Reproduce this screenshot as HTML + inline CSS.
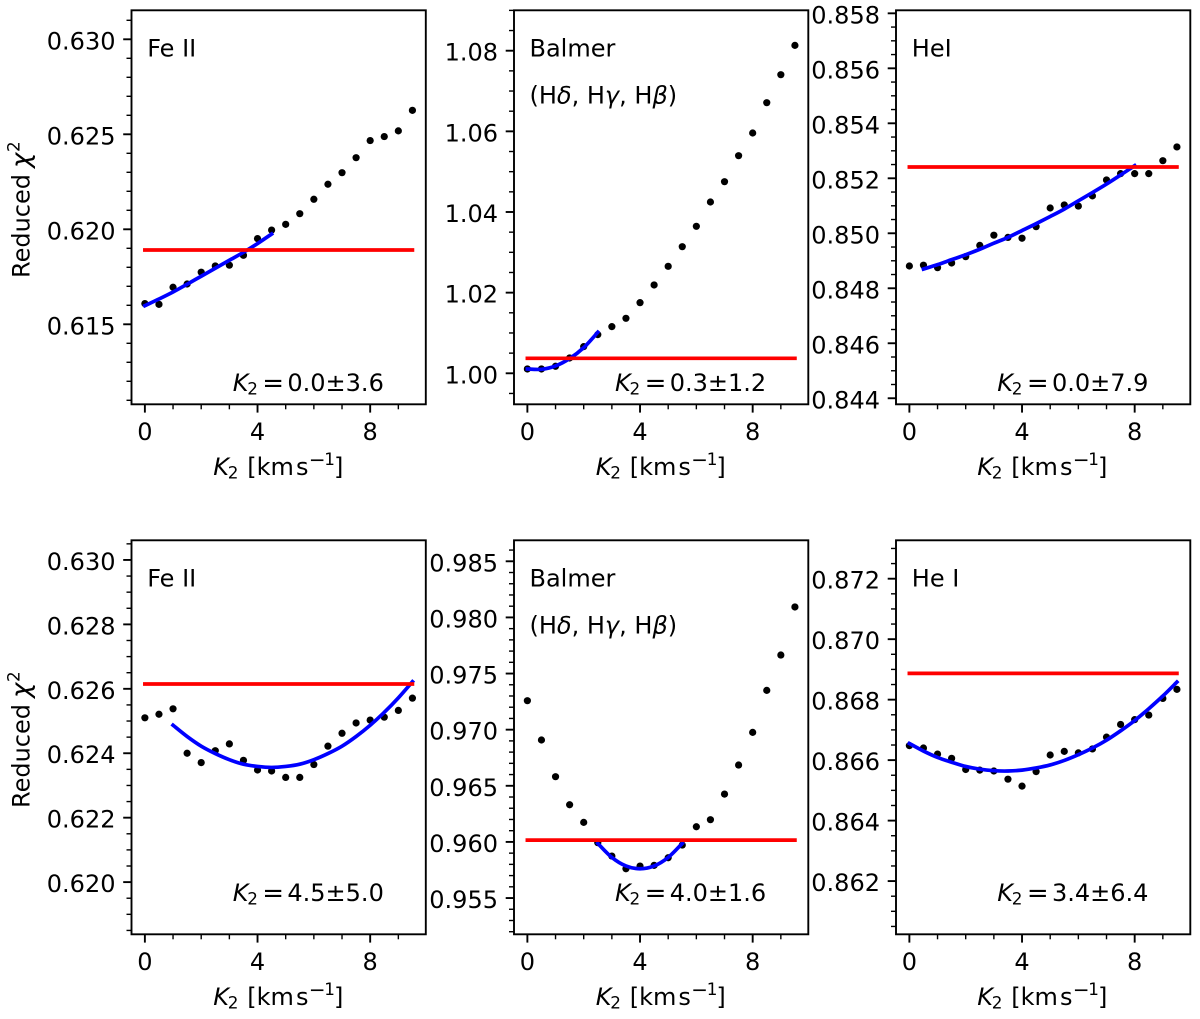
<!DOCTYPE html>
<html lang="en">
<head>
<meta charset="utf-8">
<title>Reduced chi-square versus K2</title>
<style>
html,body{margin:0;padding:0;background:#fff;}
svg{display:block;font-family:"DejaVu Sans","Liberation Sans",sans-serif;font-size:24px;fill:#000;}
.i{font-style:italic;}
.s{font-size:16.8px;}
.m{font-size:20px;}
.e{font-size:26px;}
.c{font-size:26px;font-style:italic;}
</style>
</head>
<body>
<svg xmlns="http://www.w3.org/2000/svg" width="1200" height="1019" viewBox="0 0 1200 1019">
<rect x="0" y="0" width="1200" height="1019" fill="#fff"></rect>

<g id="panel-0">
<g class="marks"></g>
<text x="147.2" y="56.7">Fe II</text>
<text transform="translate(232.7,391)"><tspan class="i">K</tspan><tspan class="s" x="14.5" y="3.5">2</tspan><tspan class="e" x="29.6" y="0.6">=</tspan><tspan x="54.7" y="0">0.0±3.6</tspan></text>
<text transform="translate(213.3,475)"><tspan class="i">K</tspan><tspan class="s" x="14.5" y="3.5">2</tspan><tspan x="34" y="0">[km</tspan><tspan x="82.7" y="0">s</tspan><tspan class="m" x="95.6" y="-8.7">−</tspan><tspan class="s" x="111" y="-10">1</tspan><tspan x="120.7" y="0">]</tspan></text>
<text transform="translate(29.3,278) rotate(-90)">Reduced<tspan class="c" x="110" y="0">χ</tspan><tspan class="s" x="126" y="-10">2</tspan></text>
</g>

<g id="panel-1">
<g class="marks"></g>
<text x="529.5" y="56.7">Balmer</text>
<text x="529.5" y="103.3">(H<tspan class="i">δ</tspan>, H<tspan class="i">γ</tspan>, H<tspan class="i">β</tspan>)</text>
<text transform="translate(615,391)"><tspan class="i">K</tspan><tspan class="s" x="14.5" y="3.5">2</tspan><tspan class="e" x="29.6" y="0.6">=</tspan><tspan x="54.7" y="0">0.3±1.2</tspan></text>
<text transform="translate(595.7,475)"><tspan class="i">K</tspan><tspan class="s" x="14.5" y="3.5">2</tspan><tspan x="34" y="0">[km</tspan><tspan x="82.7" y="0">s</tspan><tspan class="m" x="95.6" y="-8.7">−</tspan><tspan class="s" x="111" y="-10">1</tspan><tspan x="120.7" y="0">]</tspan></text>
</g>

<g id="panel-2">
<g class="marks"></g>
<text x="911.8" y="56.7">HeI</text>
<text transform="translate(997.3,391)"><tspan class="i">K</tspan><tspan class="s" x="14.5" y="3.5">2</tspan><tspan class="e" x="29.6" y="0.6">=</tspan><tspan x="54.7" y="0">0.0±7.9</tspan></text>
<text transform="translate(977.3,475)"><tspan class="i">K</tspan><tspan class="s" x="14.5" y="3.5">2</tspan><tspan x="34" y="0">[km</tspan><tspan x="82.7" y="0">s</tspan><tspan class="m" x="95.6" y="-8.7">−</tspan><tspan class="s" x="111" y="-10">1</tspan><tspan x="120.7" y="0">]</tspan></text>
</g>

<g id="panel-3">
<g class="marks"></g>
<text x="147.2" y="586.7">Fe II</text>
<text transform="translate(232.7,901)"><tspan class="i">K</tspan><tspan class="s" x="14.5" y="3.5">2</tspan><tspan class="e" x="29.6" y="0.6">=</tspan><tspan x="54.7" y="0">4.5±5.0</tspan></text>
<text transform="translate(213.3,1005)"><tspan class="i">K</tspan><tspan class="s" x="14.5" y="3.5">2</tspan><tspan x="34" y="0">[km</tspan><tspan x="82.7" y="0">s</tspan><tspan class="m" x="95.6" y="-8.7">−</tspan><tspan class="s" x="111" y="-10">1</tspan><tspan x="120.7" y="0">]</tspan></text>
<text transform="translate(29.3,808) rotate(-90)">Reduced<tspan class="c" x="110" y="0">χ</tspan><tspan class="s" x="126" y="-10">2</tspan></text>
</g>

<g id="panel-4">
<g class="marks"></g>
<text x="529.5" y="586.7">Balmer</text>
<text x="529.5" y="633.3">(H<tspan class="i">δ</tspan>, H<tspan class="i">γ</tspan>, H<tspan class="i">β</tspan>)</text>
<text transform="translate(615,901)"><tspan class="i">K</tspan><tspan class="s" x="14.5" y="3.5">2</tspan><tspan class="e" x="29.6" y="0.6">=</tspan><tspan x="54.7" y="0">4.0±1.6</tspan></text>
<text transform="translate(595.7,1005)"><tspan class="i">K</tspan><tspan class="s" x="14.5" y="3.5">2</tspan><tspan x="34" y="0">[km</tspan><tspan x="82.7" y="0">s</tspan><tspan class="m" x="95.6" y="-8.7">−</tspan><tspan class="s" x="111" y="-10">1</tspan><tspan x="120.7" y="0">]</tspan></text>
</g>

<g id="panel-5">
<g class="marks"></g>
<text x="911.8" y="586.7">He I</text>
<text transform="translate(997.3,901)"><tspan class="i">K</tspan><tspan class="s" x="14.5" y="3.5">2</tspan><tspan class="e" x="29.6" y="0.6">=</tspan><tspan x="54.7" y="0">3.4±6.4</tspan></text>
<text transform="translate(977.3,1005)"><tspan class="i">K</tspan><tspan class="s" x="14.5" y="3.5">2</tspan><tspan x="34" y="0">[km</tspan><tspan x="82.7" y="0">s</tspan><tspan class="m" x="95.6" y="-8.7">−</tspan><tspan class="s" x="111" y="-10">1</tspan><tspan x="120.7" y="0">]</tspan></text>
</g>
</svg>

<script>
// Shared x data
const k2Grid = [0,0.5,1,1.5,2,2.5,3,3.5,4,4.5,5,5.5,6,6.5,7,7.5,8,8.5,9,9.5];
const xRange = [-0.475, 9.975];
const xTickLabels = ['0','4','8'];
const xMinorTicks = [1,2,3,5,6,7,9];

// Panel 0: Fe II (top)
const feTopChi = [0.61609,0.61605,0.61695,0.61712,0.61774,0.61807,0.61811,0.61863,0.61951,0.61996,0.62026,0.62082,0.62158,0.62237,0.62298,0.62377,0.62467,0.62488,0.62518,0.62626];
const feTopFitK = [0,0.5,1,1.5,2,2.5,3,3.5,4,4.5];
const feTopFitChi = [0.61598,0.61633,0.61670,0.61711,0.61753,0.61795,0.61837,0.61879,0.61925,0.61975];
const feTopLimit = 0.61891;
const feTopRange = [0.610789,0.631526];
const feTopTickLabels = ['0.615','0.620','0.625','0.630'];
const feTopMinorStep = 0.001;

// Panel 1: Balmer (top)
const balmerTopChi = [1.00107,1.00107,1.00174,1.0038,1.00661,1.00959,1.01157,1.01364,1.01752,1.0219,1.02653,1.0314,1.03645,1.04248,1.04752,1.05397,1.05959,1.06711,1.07405,1.08132];
const balmerTopFitK = [0,0.5,1,1.5,2,2.5];
const balmerTopFitChi = [1.00107,1.00099,1.00182,1.00364,1.00636,1.01017];
const balmerTopLimit = 1.00372;
const balmerTopRange = [0.99231,1.09002];
const balmerTopTickLabels = ['1.00','1.02','1.04','1.06','1.08'];
const balmerTopMinorStep = 0.005;

// Panel 2: HeI (top)
const heTopChi = [0.84881,0.84884,0.84875,0.84892,0.84915,0.84956,0.84993,0.84985,0.84982,0.85024,0.85092,0.85103,0.85099,0.85136,0.85194,0.85217,0.85217,0.85217,0.85264,0.85314];
const heTopFitK = [0.5,1,1.5,2,2.5,3,3.5,4,4.5,5,5.5,6,6.5,7,7.5,8];
const heTopFitChi = [0.84870,0.84886,0.84904,0.84922,0.84942,0.84964,0.84985,0.85010,0.85035,0.85061,0.85088,0.85118,0.85148,0.85179,0.85212,0.85246];
const heTopLimit = 0.85241;
const heTopRange = [0.84378,0.85811];
const heTopTickLabels = ['0.844','0.846','0.848','0.850','0.852','0.854','0.856','0.858'];
const heTopMinorStep = 0.0005;

// Panel 3: Fe II (bottom)
const feBottomChi = [0.62510,0.62521,0.62538,0.62400,0.62371,0.62408,0.62429,0.62378,0.62348,0.62345,0.62325,0.62325,0.62365,0.62422,0.62462,0.62494,0.62503,0.62512,0.62533,0.62571];
const feBottomFitK = [1,1.5,2,2.5,3,3.5,4,4.5,5,5.5,6,6.5,7,7.5,8,8.5,9,9.5];
const feBottomFitChi = [0.62487,0.62452,0.62422,0.62399,0.62380,0.62366,0.62359,0.62356,0.62359,0.62366,0.62380,0.62399,0.62422,0.62452,0.62487,0.62527,0.62572,0.62622];
const feBottomLimit = 0.62615;
const feBottomRange = [0.61838,0.63061];
const feBottomTickLabels = ['0.620','0.622','0.624','0.626','0.628','0.630'];
const feBottomMinorStep = 0.0005;

// Panel 4: Balmer (bottom)
const balmerBottomChi = [0.97258,0.96908,0.96581,0.96331,0.96174,0.95993,0.95874,0.95761,0.95785,0.95791,0.95859,0.95972,0.96135,0.96198,0.96426,0.96685,0.96976,0.97350,0.97665,0.98093];
const balmerBottomFitK = [2.5,3,3.5,4,4.5,5,5.5];
const balmerBottomFitChi = [0.95987,0.95862,0.95786,0.95761,0.95786,0.95862,0.95987];
const balmerBottomLimit = 0.96016;
const balmerBottomRange = [0.95177,0.98687];
const balmerBottomTickLabels = ['0.955','0.960','0.965','0.970','0.975','0.980','0.985'];
const balmerBottomMinorStep = 0.001;

// Panel 5: He I (bottom)
const heBottomChi = [0.86648,0.86640,0.86620,0.86606,0.86569,0.86567,0.86564,0.86537,0.86514,0.86562,0.86617,0.86629,0.86624,0.86637,0.86676,0.86718,0.86734,0.86749,0.86804,0.86834];
const heBottomFitK = [0,0.5,1,1.5,2,2.5,3,3.5,4,4.5,5,5.5,6,6.5,7,7.5,8,8.5,9,9.5];
const heBottomFitChi = [0.86655,0.86630,0.86609,0.86593,0.86579,0.86570,0.86565,0.86564,0.86567,0.86574,0.86584,0.86599,0.86618,0.86640,0.86666,0.86697,0.86731,0.86770,0.86812,0.86858];
const heBottomLimit = 0.86887;
const heBottomRange = [0.86024,0.87327];
const heBottomTickLabels = ['0.862','0.864','0.866','0.868','0.870','0.872'];
const heBottomMinorStep = 0.0005;

const SVG_NS = 'http://www.w3.org/2000/svg';

function makeEl(tag, attrs, parent) {
  const el = document.createElementNS(SVG_NS, tag);
  for (const key in attrs) el.setAttribute(key, attrs[key]);
  parent.appendChild(el);
  return el;
}

function smoothPath(pts) {
  let d = 'M' + pts[0][0].toFixed(2) + ' ' + pts[0][1].toFixed(2);
  for (let i = 0; i < pts.length - 1; i++) {
    const p0 = pts[Math.max(0, i - 1)];
    const p1 = pts[i];
    const p2 = pts[i + 1];
    const p3 = pts[Math.min(pts.length - 1, i + 2)];
    const c1x = p1[0] + (p2[0] - p0[0]) / 6;
    const c1y = p1[1] + (p2[1] - p0[1]) / 6;
    const c2x = p2[0] - (p3[0] - p1[0]) / 6;
    const c2y = p2[1] - (p3[1] - p1[1]) / 6;
    d += 'C' + c1x.toFixed(2) + ' ' + c1y.toFixed(2) + ' ' + c2x.toFixed(2) + ' ' + c2y.toFixed(2) + ' ' + p2[0].toFixed(2) + ' ' + p2[1].toFixed(2);
  }
  return d;
}

function drawPanel(index, left, top, chi, fitK, fitChi, limit, yRange, yTickLabels, minorStep) {
  const width = 294.3;
  const height = 394;
  const bottom = top + height;
  const xScale = function (v) { return left + (v - xRange[0]) / (xRange[1] - xRange[0]) * width; };
  const yScale = function (v) { return bottom - (v - yRange[0]) / (yRange[1] - yRange[0]) * height; };
  const g = document.querySelector('#panel-' + index + ' .marks');

  // data points
  k2Grid.forEach(function (k, i) {
    const dot = makeEl('circle', { cx: xScale(k), cy: yScale(chi[i]), r: 3.6, fill: '#000' }, g);
    
    
  });

  // fitted parabola
  const fitPts = fitK.map(function (k, i) { return [xScale(k), yScale(fitChi[i])]; });
  const fit = makeEl('path', { d: smoothPath(fitPts), fill: 'none', stroke: '#0000ff', 'stroke-width': 3.7, 'stroke-linecap': 'square' }, g);
  
  

  // confidence limit line
  const limitLine = makeEl('line', { x1: xScale(k2Grid[0]), x2: xScale(k2Grid[k2Grid.length - 1]), y1: yScale(limit), y2: yScale(limit), stroke: '#ff0000', 'stroke-width': 3.7, 'stroke-linecap': 'square' }, g);
  
  

  // x ticks
  xTickLabels.forEach(function (label) {
    const v = Number(label);
    const tick = makeEl('line', { x1: xScale(v), x2: xScale(v), y1: bottom, y2: bottom + 8.3, stroke: '#000', 'stroke-width': 1.9 }, g);
    
    
    const text = makeEl('text', { x: xScale(v), y: bottom + 35.5, 'text-anchor': 'middle' }, g);
    text.textContent = label;
    
    
  });
  xMinorTicks.forEach(function (v) {
    const tick = makeEl('line', { x1: xScale(v), x2: xScale(v), y1: bottom, y2: bottom + 5, stroke: '#000', 'stroke-width': 1.4 }, g);
    
    
  });

  // y ticks
  const majors = yTickLabels.map(Number);
  const firstMinor = Math.ceil(yRange[0] / minorStep);
  const lastMinor = Math.floor(yRange[1] / minorStep);
  for (let n = firstMinor; n <= lastMinor; n++) {
    const v = n * minorStep;
    if (majors.some(function (m) { return Math.abs(m - v) < minorStep / 10; })) continue;
    const tick = makeEl('line', { x1: left - 5, x2: left, y1: yScale(v), y2: yScale(v), stroke: '#000', 'stroke-width': 1.4 }, g);
    
    
  }
  yTickLabels.forEach(function (label) {
    const v = Number(label);
    const tick = makeEl('line', { x1: left - 8.3, x2: left, y1: yScale(v), y2: yScale(v), stroke: '#000', 'stroke-width': 1.9 }, g);
    
    
    const text = makeEl('text', { x: left - 16, y: yScale(v) + 10, 'text-anchor': 'end' }, g);
    text.textContent = label;
    
    
  });

  // frame
  const frame = makeEl('rect', { x: left, y: top, width: width, height: height, fill: 'none', stroke: '#000', 'stroke-width': 1.9 }, g);
  
  
}

drawPanel(0, 131.5, 10.3, feTopChi, feTopFitK, feTopFitChi, feTopLimit, feTopRange, feTopTickLabels, feTopMinorStep);
drawPanel(1, 514, 10.3, balmerTopChi, balmerTopFitK, balmerTopFitChi, balmerTopLimit, balmerTopRange, balmerTopTickLabels, balmerTopMinorStep);
drawPanel(2, 896, 10.3, heTopChi, heTopFitK, heTopFitChi, heTopLimit, heTopRange, heTopTickLabels, heTopMinorStep);
drawPanel(3, 131.5, 540.3, feBottomChi, feBottomFitK, feBottomFitChi, feBottomLimit, feBottomRange, feBottomTickLabels, feBottomMinorStep);
drawPanel(4, 514, 540.3, balmerBottomChi, balmerBottomFitK, balmerBottomFitChi, balmerBottomLimit, balmerBottomRange, balmerBottomTickLabels, balmerBottomMinorStep);
drawPanel(5, 896, 540.3, heBottomChi, heBottomFitK, heBottomFitChi, heBottomLimit, heBottomRange, heBottomTickLabels, heBottomMinorStep);
</script>
</body>
</html>
